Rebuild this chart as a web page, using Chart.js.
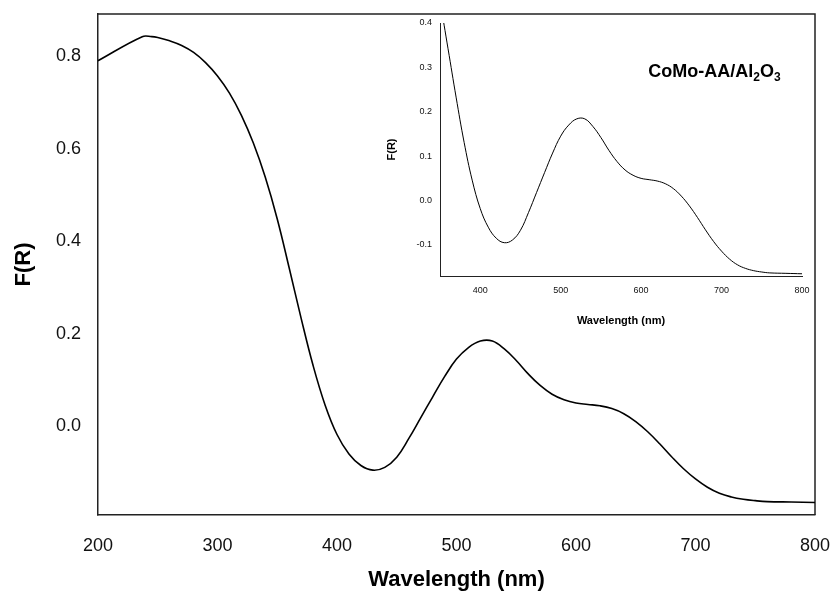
<!DOCTYPE html>
<html>
<head>
<meta charset="utf-8">
<script src="https://cdn.jsdelivr.net/npm/chart.js@4/dist/chart.umd.min.js"></script>
<style>
    body { margin: 0; background: #fff; }
    #wrap { position: relative; width: 832px; height: 599px; }
    #mainChart { position: absolute; left: 0; top: 0; }
    #insetChart { position: absolute; left: 370px; top: 10px; }
</style>
</head>
<body>
<div id="wrap">
    <canvas id="mainChart" width="832" height="599"></canvas>
    <canvas id="insetChart" width="440" height="330"></canvas>
</div>
<script>
// spectrum (nm, F(R))
const wavelength = [200, 237, 245, 250, 260, 270, 280, 290, 300, 310,
                    320, 330, 340, 350, 360, 370, 380, 390, 400, 410,
                    420, 430, 440, 450, 460, 470, 480, 490, 500, 510,
                    520, 530, 540, 550, 560, 570, 580, 590, 600,
                    610, 620, 630, 640, 650, 660, 670, 680, 690, 700,
                    710, 720, 730, 740, 750, 760, 780, 800];
const fr = [0.790, 0.842, 0.842, 0.840, 0.833, 0.823, 0.808, 0.786, 0.757, 0.720,
            0.672, 0.612, 0.538, 0.448, 0.342, 0.233, 0.131, 0.046, -0.018, -0.060,
            -0.085, -0.095, -0.089, -0.067, -0.027, 0.018, 0.063, 0.107, 0.145, 0.170,
            0.184, 0.184, 0.167, 0.142, 0.113, 0.088, 0.069, 0.057, 0.050,
            0.047, 0.044, 0.038, 0.027, 0.010, -0.012, -0.038, -0.066, -0.092, -0.114,
            -0.132, -0.145, -0.153, -0.158, -0.161, -0.163, -0.164, -0.165];

const mainXTicks = [200, 300, 400, 500, 600, 700, 800];
const mainYTicks = [0.0, 0.2, 0.4, 0.6, 0.8];
const insetXTicks = [400, 500, 600, 700, 800];
const insetYTicks = [-0.1, 0.0, 0.1, 0.2, 0.3, 0.4];
const insetLabel = { text: 'CoMo-AA/Al', sub1: '2', mid: 'O', sub2: '3', x: 609, y: 0.279 };

const FONT = '"Liberation Sans", Arial, sans-serif';
const AXIS_COLOR = '#222';

const points = wavelength.map((w, i) => ({ x: w, y: fr[i] }));

function fixedTicks(list) {
    return function(scale) {
        scale.ticks = list.map(v => ({ value: v }));
    };
}

// top and right edges of the main plot box
const framePlugin = {
    id: 'frame',
    beforeDatasetsDraw(chart) {
        const { ctx, chartArea } = chart;
        ctx.save();
        ctx.strokeStyle = AXIS_COLOR;
        ctx.lineWidth = 1.5;
        ctx.beginPath();
        ctx.moveTo(chartArea.left, chartArea.top);
        ctx.lineTo(chartArea.right, chartArea.top);
        ctx.lineTo(chartArea.right, chartArea.bottom);
        ctx.stroke();
        ctx.restore();
    }
};

const labelPlugin = {
    id: 'insetLabel',
    afterDraw(chart) {
        const ctx = chart.ctx;
        let x = chart.scales.x.getPixelForValue(insetLabel.x);
        const y = chart.scales.y.getPixelForValue(insetLabel.y);
        const big = 'bold 18px ' + FONT;
        const small = 'bold 12px ' + FONT;
        ctx.save();
        ctx.fillStyle = '#000';
        ctx.textBaseline = 'alphabetic';
        ctx.textAlign = 'left';
        ctx.font = big;
        ctx.fillText(insetLabel.text, x, y);
        x += ctx.measureText(insetLabel.text).width;
        ctx.font = small;
        ctx.fillText(insetLabel.sub1, x, y + 4);
        x += ctx.measureText(insetLabel.sub1).width;
        ctx.font = big;
        ctx.fillText(insetLabel.mid, x, y);
        x += ctx.measureText(insetLabel.mid).width;
        ctx.font = small;
        ctx.fillText(insetLabel.sub2, x, y + 4);
        ctx.restore();
    }
};

function makeChart(canvasId, opts) {
    const ctx = document.getElementById(canvasId).getContext('2d');
    return new Chart(ctx, {
        type: 'line',
        data: {
            datasets: [{
                data: points,
                borderColor: '#000',
                borderWidth: opts.lineWidth,
                pointRadius: 0,
                fill: false,
                tension: 0.4
            }]
        },
        options: {
            responsive: false,
            animation: false,
            devicePixelRatio: 1,
            layout: { padding: opts.padding },
            plugins: { legend: { display: false }, tooltip: { enabled: false } },
            scales: {
                x: {
                    type: 'linear',
                    min: opts.xMin,
                    max: opts.xMax,
                    afterBuildTicks: fixedTicks(opts.xTicks),
                    afterFit: function(scale) {
                        scale.height = opts.xHeight;
                        scale.paddingLeft = 0;
                        scale.paddingRight = 0;
                    },
                    grid: { display: false, drawOnChartArea: false, drawTicks: true, tickLength: opts.tickLength, color: AXIS_COLOR, lineWidth: opts.axisWidth },
                    border: { display: true, color: AXIS_COLOR, width: opts.axisWidth },
                    ticks: {
                        color: '#111',
                        font: { family: FONT, size: opts.tickSize },
                        padding: opts.xTickPad,
                        maxRotation: 0,
                        callback: v => String(v)
                    },
                    title: {
                        display: true,
                        text: 'Wavelength (nm)',
                        color: '#000',
                        font: { family: FONT, size: opts.titleSize, weight: 'bold' },
                        padding: { top: 0, bottom: opts.xTitlePad }
                    }
                },
                y: {
                    type: 'linear',
                    min: opts.yMin,
                    max: opts.yMax,
                    afterBuildTicks: fixedTicks(opts.yTicks),
                    afterFit: function(scale) {
                        scale.width = opts.yWidth;
                        scale.paddingTop = 0;
                        scale.paddingBottom = 0;
                    },
                    grid: { display: false, drawOnChartArea: false, drawTicks: true, tickLength: opts.tickLength, color: AXIS_COLOR, lineWidth: opts.axisWidth },
                    border: { display: true, color: AXIS_COLOR, width: opts.axisWidth },
                    ticks: {
                        color: '#111',
                        font: { family: FONT, size: opts.tickSize },
                        padding: opts.yTickPad,
                        callback: v => v.toFixed(1)
                    },
                    title: {
                        display: true,
                        text: 'F(R)',
                        color: '#000',
                        font: { family: FONT, size: opts.titleSize, weight: 'bold' },
                        padding: { top: opts.yTitlePad, bottom: 0 }
                    }
                }
            }
        },
        plugins: opts.plugins
    });
}

makeChart('mainChart', {
    xMin: 200, xMax: 800, yMin: -0.192, yMax: 0.891,
    xTicks: mainXTicks, yTicks: mainYTicks,
    padding: { top: 14, right: 17, left: 0, bottom: 0 },
    xHeight: 84, yWidth: 98,
    tickLength: 7, tickSize: 18, titleSize: 22,
    xTickPad: 13, yTickPad: 10, xTitlePad: 6, yTitlePad: 11,
    lineWidth: 1.6, axisWidth: 1.5,
    plugins: [framePlugin]
});

makeChart('insetChart', {
    xMin: 350, xMax: 800, yMin: -0.17, yMax: 0.4,
    xTicks: insetXTicks, yTicks: insetYTicks,
    padding: { top: 13, right: 8, left: 0, bottom: 0 },
    xHeight: 64, yWidth: 70,
    tickLength: 4, tickSize: 9, titleSize: 11,
    xTickPad: 5, yTickPad: 4, xTitlePad: 12, yTitlePad: 15,
    lineWidth: 1, axisWidth: 1,
    plugins: [labelPlugin]
});
</script>
</body>
</html>
